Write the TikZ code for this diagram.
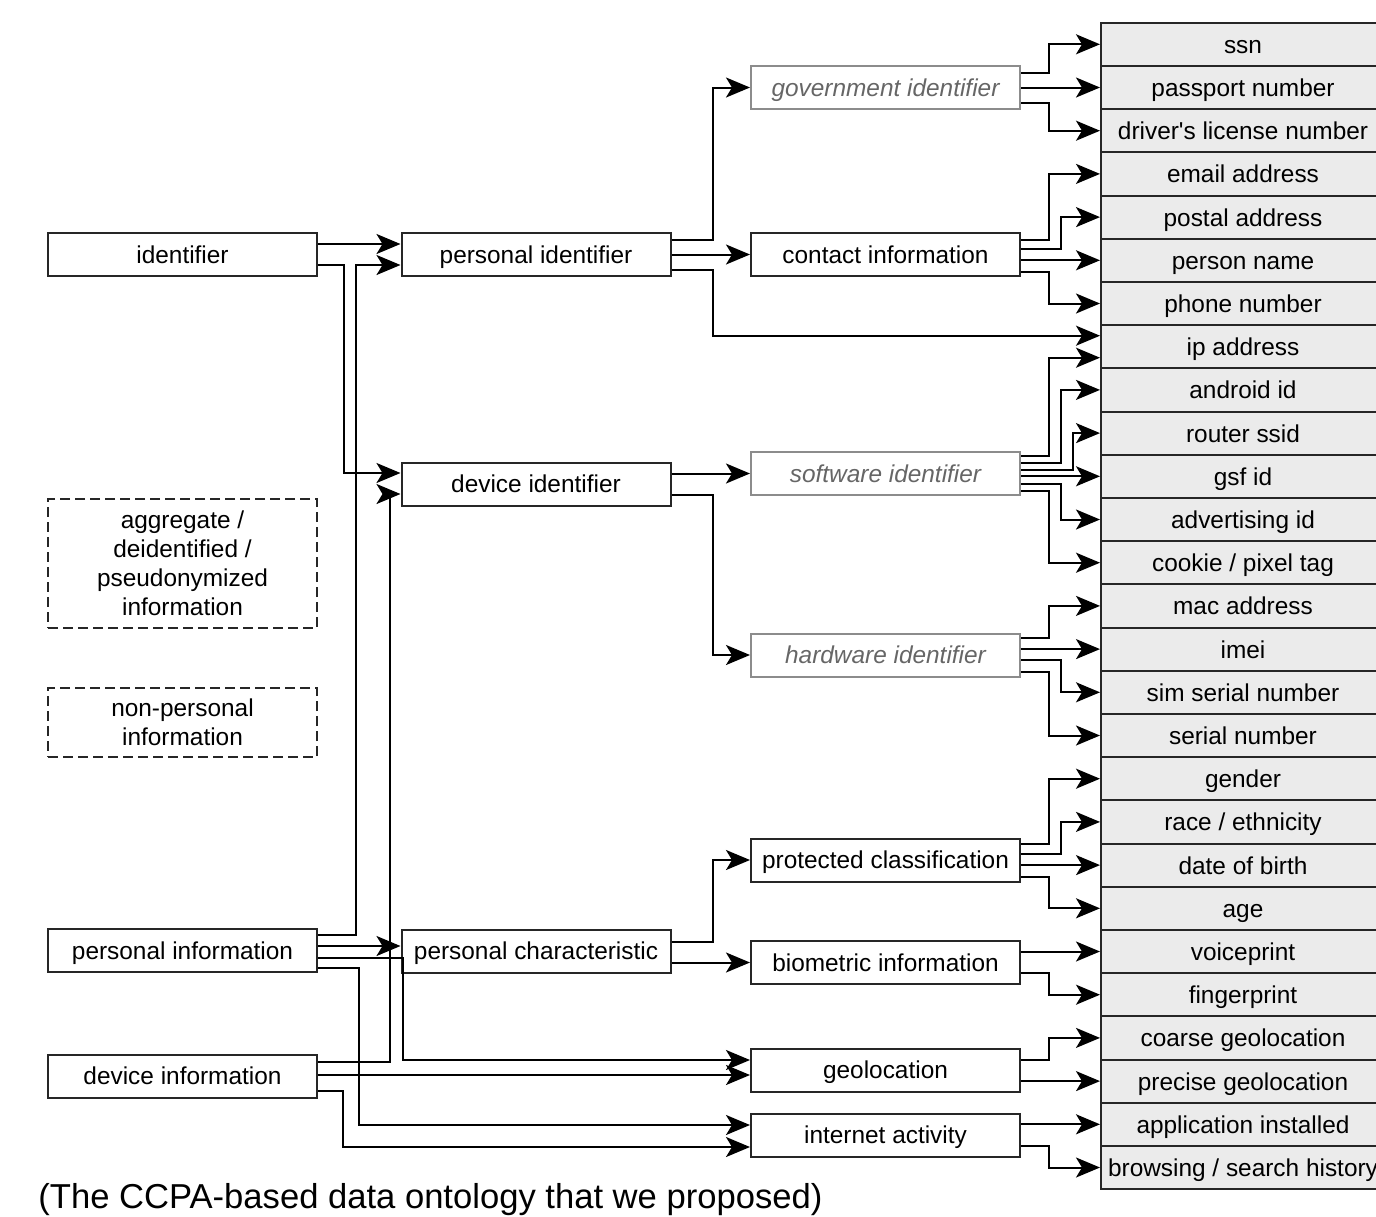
\documentclass[tikz,border=0pt]{standalone}
\usepackage{fontspec}
\setmainfont{Liberation Sans}
\usetikzlibrary{arrows.meta, calc}

\begin{document}
\begin{tikzpicture}[
    x=0.5pt, y=-0.5pt, % pixel grid, y going down
    >={Stealth[length=12pt, width=10pt, inset=3pt]},
    font=\fontsize{12.2}{14.5}\selectfont,
    every node/.style={align=center},
    frame/.style={draw=black!85, line width=1pt, minimum width=134.5pt, minimum height=21.5pt, inner sep=0pt},
    box/.style={frame, text height=10.5pt, text depth=1.6pt},
    abstract/.style={box, draw=black!45, text=black!60, font=\fontsize{12.2}{14.5}\selectfont\itshape},
    other/.style={frame, dash pattern=on 5pt off 2.5pt},
    leaf/.style={box, fill=black!8, minimum width=142pt, minimum height=21.6pt},
    flow/.style={->, line width=1pt}
]
\useasboundingbox (0,0) rectangle (1376,1216);

% =========================================================
% Left column
% =========================================================
\node[box]   (ident)   at (182.5, 254.5) {identifier};
\node[other, minimum height=64.5pt] (aggr) at (182.5, 563.5) {aggregate /\\deidentified /\\pseudonymized\\information};
\node[other, minimum height=34.5pt] (nonpers) at (182.5, 722.5) {non-personal\\information};
\node[box]   (pinfo)   at (182.5, 950.5) {personal information};
\node[box]   (dinfo)   at (182.5, 1076)  {device information};

% =========================================================
% Middle column
% =========================================================
\node[box]   (pid)     at (536, 254.5) {personal identifier};
\node[box]   (devid)   at (536, 484)   {device identifier};
\node[box]   (pchar)   at (536, 951)   {personal characteristic};

% =========================================================
% Categories
% =========================================================
\node[abstract] (govid)   at (885.5, 87.5)  {government identifier};
\node[box]      (contact) at (885.5, 254.5) {contact information};
\node[abstract] (swid)    at (885.5, 473.5) {software identifier};
\node[abstract] (hwid)    at (885.5, 655)   {hardware identifier};
\node[box]      (protc)   at (885.5, 860)   {protected classification};
\node[box]      (bio)     at (885.5, 962.5) {biometric information};
\node[box]      (geo)     at (885.5, 1070)  {geolocation};
\node[box]      (inet)    at (885.5, 1135)  {internet activity};

% =========================================================
% Data types (stacked)
% =========================================================
\foreach \nm/\txt [count=\i from 0] in {ssn/ssn, passport/passport number,
    license/driver\textquotesingle s license number, email/email address, postal/postal address,
    pname/person name, phone/phone number, ip/ip address, android/android id,
    router/router ssid, gsf/gsf id, adid/advertising id, cookie/{cookie / pixel tag},
    mac/mac address, imei/imei, sim/sim serial number, serial/serial number,
    gender/gender, race/{race / ethnicity}, dob/date of birth, age/age,
    voice/voiceprint, finger/fingerprint, coarse/coarse geolocation,
    precise/precise geolocation, apps/application installed,
    browse/{browsing / search history}}
    \node[leaf] (\nm) at (1243, 44.3+43.2*\i) {\txt};

% Left -> middle
\draw[flow] ($(ident.east)+(0,-10.5)$) -- ($(pid.west)+(0,-10.5)$);
\draw[flow] ($(ident.east)+(0,10.5)$) -- ++(26,0) |- ($(devid.west)+(0,-11)$);
\draw[flow] ($(pinfo.east)+(0,-15.5)$) -- ++(38,0) |- ($(pid.west)+(0,10.5)$);
\draw[flow] ($(pinfo.east)+(0,-4.5)$) -- ($(pchar.west)+(0,-5)$);
\draw[flow] ($(pinfo.east)+(0,7.5)$) -- ++(85,0) |- ($(geo.west)+(0,-10)$);
\draw[flow] ($(pinfo.east)+(0,17.5)$) -- ++(41,0) |- ($(inet.west)+(0,-10)$);
\draw[flow] ($(dinfo.east)+(0,-14)$) -- ++(72,0) |- ($(devid.west)+(0,10)$);
\draw[flow] ($(dinfo.east)+(0,-1)$) -- ($(geo.west)+(0,5)$);
\draw[flow] ($(dinfo.east)+(0,15)$) -- ++(25,0) |- ($(inet.west)+(0,12)$);

% Middle -> categories
\draw[flow] ($(pid.east)+(0,-14.5)$) -- ++(41,0) |- (govid.west);
\draw[flow] (pid.east) -- (contact.west);
\draw[flow] ($(pid.east)+(0,15.5)$) -- ++(41,0) |- ($(ip.west)+(0,-11)$);
\draw[flow] ($(devid.east)+(0,-10.5)$) -- (swid.west);
\draw[flow] ($(devid.east)+(0,11)$) -- ++(41,0) |- (hwid.west);
\draw[flow] ($(pchar.east)+(0,-9)$) -- ++(41,0) |- (protc.west);
\draw[flow] ($(pchar.east)+(0,11.5)$) -- (bio.west);

% Categories -> data types
\draw[flow] ($(govid.east)+(0,-15)$) -- ++(28,0) |- (ssn.west);
\draw[flow] (govid.east) -- (passport.west);
\draw[flow] ($(govid.east)+(0,15)$) -- ++(28,0) |- (license.west);

\draw[flow] ($(contact.east)+(0,-15)$) -- ++(28,0) |- (email.west);
\draw[flow] ($(contact.east)+(0,-5.5)$) -- ++(40,0) |- (postal.west);
\draw[flow] (contact.east |- pname.west) -- (pname.west);
\draw[flow] ($(contact.east)+(0,17)$) -- ++(28,0) |- (phone.west);

\draw[flow] ($(swid.east)+(0,-17.5)$) -- ++(28,0) |- ($(ip.west)+(0,11)$);
\draw[flow] ($(swid.east)+(0,-10.5)$) -- ++(40,0) |- (android.west);
\draw[flow] ($(swid.east)+(0,-3.5)$) -- ++(52,0) |- (router.west);
\draw[flow] (swid.east |- gsf.west) -- (gsf.west);
\draw[flow] ($(swid.east)+(0,10.5)$) -- ++(40,0) |- (adid.west);
\draw[flow] ($(swid.east)+(0,17.5)$) -- ++(28,0) |- (cookie.west);

\draw[flow] ($(hwid.east)+(0,-17)$) -- ++(28,0) |- (mac.west);
\draw[flow] (hwid.east |- imei.west) -- (imei.west);
\draw[flow] ($(hwid.east)+(0,5)$) -- ++(40,0) |- (sim.west);
\draw[flow] ($(hwid.east)+(0,17)$) -- ++(28,0) |- (serial.west);

\draw[flow] ($(protc.east)+(0,-16)$) -- ++(28,0) |- (gender.west);
\draw[flow] ($(protc.east)+(0,-6)$) -- ++(40,0) |- (race.west);
\draw[flow] (protc.east |- dob.west) -- (dob.west);
\draw[flow] ($(protc.east)+(0,17)$) -- ++(28,0) |- (age.west);

\draw[flow] (bio.east |- voice.west) -- (voice.west);
\draw[flow] ($(bio.east)+(0,10.5)$) -- ++(28,0) |- (finger.west);

\draw[flow] ($(geo.east)+(0,-10)$) -- ++(28,0) |- (coarse.west);
\draw[flow] (geo.east |- precise.west) -- (precise.west);

\draw[flow] (inet.east |- apps.west) -- (apps.west);
\draw[flow] ($(inet.east)+(0,11)$) -- ++(28,0) |- (browse.west);

% Caption
\node[anchor=base west, inner sep=0pt, font=\fontsize{17.3}{20}\selectfont] (caption) at (38, 1208) {(The CCPA-based data ontology that we proposed)};

\end{tikzpicture}
\end{document}
